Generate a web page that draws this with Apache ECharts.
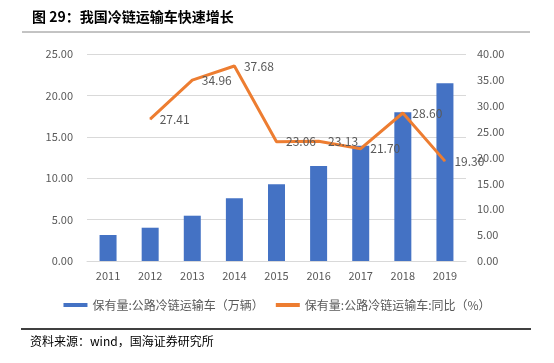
<!DOCTYPE html>
<html><head><meta charset="utf-8">
<script src="https://cdn.jsdelivr.net/npm/echarts@6/dist/echarts.min.js"></script>
<style>html,body{margin:0;padding:0;background:#fff}#c{width:554px;height:363px}</style>
</head><body><div id="c"></div>
<script>
var categories = ['2011','2012','2013','2014','2015','2016','2017','2018','2019'];
var stockValues = [3.14, 4.02, 5.47, 7.57, 9.26, 11.47, 13.93, 17.96, 21.46];
var yoyValues = [null, 27.41, 34.96, 37.68, 23.06, 23.13, 21.70, 28.60, 19.30];
var barName = '保有量:公路冷链运输车（万辆）';
var lineName = '保有量:公路冷链运输车:同比（%）';
var titleText = '图 29：我国冷链运输车快速增长';
var sourceText = '资料来源：wind，国海证券研究所';

var font = '"Microsoft YaHei","Noto Sans CJK SC",sans-serif';
var chart = echarts.init(document.getElementById('c'), null, {renderer: 'canvas'});
chart.setOption({
  animation: false,
  textStyle: {fontFamily: font},
  grid: {left: 87, right: 88, top: 54, bottom: 102},
  legend: {
    bottom: 47, left: 'center',
    itemWidth: 24, itemHeight: 4, itemGap: 12,
    textStyle: {color: '#595959', fontSize: 12, fontFamily: font},
    data: [{name: barName, icon: 'rect'}, {name: lineName, icon: 'rect'}]
  },
  xAxis: {
    type: 'category', data: categories,
    axisLine: {lineStyle: {color: '#d9d9d9'}},
    axisTick: {show: false},
    axisLabel: {color: '#595959', fontSize: 11, margin: 9}
  },
  yAxis: [{
    type: 'value', min: 0, max: 25, interval: 5,
    axisLabel: {color: '#595959', fontSize: 11, margin: 14, formatter: function(v){return v.toFixed(2);}},
    splitLine: {lineStyle: {color: '#d9d9d9'}},
    axisLine: {show: false}, axisTick: {show: false}
  }, {
    type: 'value', min: 0, max: 40, interval: 5,
    axisLabel: {color: '#595959', fontSize: 11, margin: 11, formatter: function(v){return v.toFixed(2);}},
    splitLine: {show: false},
    axisLine: {show: false}, axisTick: {show: false}
  }],
  series: [{
    name: barName, type: 'bar', data: stockValues, barWidth: 17,
    itemStyle: {color: '#4472c4'}
  }, {
    name: lineName, type: 'line', yAxisIndex: 1, data: yoyValues,
    symbol: 'circle', symbolSize: 1, showSymbol: true,
    lineStyle: {color: '#ed7d31', width: 3}, itemStyle: {color: '#ed7d31'},
    label: {show: true, position: 'right', distance: 9, color: '#595959', fontSize: 12,
      formatter: function(p){return p.value == null ? '' : Number(p.value).toFixed(2);}},
    labelLayout: {hideOverlap: false}
  }],
  graphic: [
    {type: 'text', left: 32, top: 10, style: {text: titleText, font: 'bold 14px ' + font, fill: '#000'}},
    {type: 'line', shape: {x1: 22, y1: 32, x2: 530, y2: 32}, style: {stroke: '#888', lineWidth: 1}},
    {type: 'line', shape: {x1: 21, y1: 329, x2: 531, y2: 329}, style: {stroke: '#404040', lineWidth: 2}},
    {type: 'text', left: 30, top: 335, style: {text: sourceText, font: '12px ' + font, fill: '#000'}}
  ]
});
</script></body></html>
